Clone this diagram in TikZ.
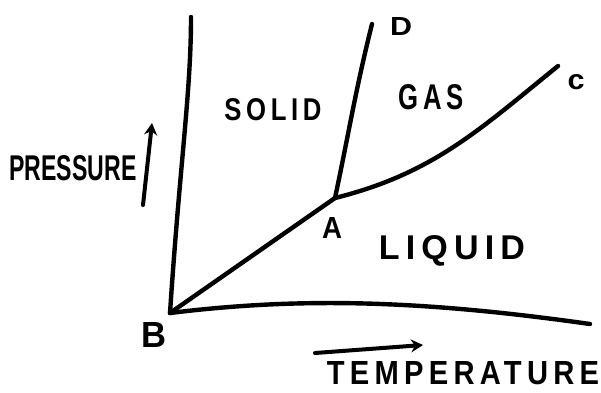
\documentclass[tikz,border=0pt]{standalone}
\usepackage{fontspec}
\usepackage{graphicx}
\setmainfont{Liberation Sans}
\newfontfamily\handfont[LetterSpace=18]{Liberation Sans}
\usetikzlibrary{arrows.meta,positioning}
\newcommand{\hand}[3]{\resizebox{#1}{#2}{\bfseries #3}}
\tikzset{
  boundary/.style={line width=4.4pt,line cap=round,line join=round,draw=black},
  arrow/.style={-{Stealth[length=12pt,width=13pt]},line width=4pt,line cap=round},
  phase/.style={inner sep=0pt,font=\handfont},
  point/.style={inner sep=0pt},
  axisLabel/.style={inner sep=0pt}
}

\begin{document}
\begin{tikzpicture}[x=1pt,y=1pt]
  \useasboundingbox (0,0) rectangle (601,392);

  % points of the diagram
  \coordinate (B) at (170,79);
  \coordinate (A) at (335,194);
  \coordinate (C) at (558,326);
  \coordinate (D) at (372,368);
  \coordinate (top) at (191,375);
  \coordinate (end) at (590,68);

  % phase boundaries
  \draw[boundary] (B) .. controls (180,230) and (191,300) .. (top);
  \draw[boundary] (B) -- (A);
  \draw[boundary] (A) to[out=78,in=-104] (D);
  \draw[boundary] (A) to[out=14,in=-141] (C);
  \draw[boundary] (B) .. controls (300,95) and (420,92) .. (end);

  % point labels
  \node[point] (labD) at (401,366) {\hand{22pt}{18pt}{D}};
  \node[point] (labC) at (576,310) {\hand{17pt}{15pt}{c}};
  \node[point] (labA) at (332,164) {\hand{20pt}{21pt}{A}};
  \node[point] (labB) at (154,57) {\hand{25pt}{25pt}{B}};

  % phases
  \node[phase] (solid) at (273,282) {\hand{97pt}{22pt}{SOLID}};
  \node[phase] (gas) at (431,295) {\hand{65pt}{25pt}{GAS}};
  \node[phase,anchor=base] (liquid) at (452,133) {\hand{146pt}{24pt}{LIQUID}};

  % axes
  \node[axisLabel] (pressure) at (73,224) {\hand{127pt}{25pt}{PRESSURE}};
  \coordinate (pUp0) at (143,187);
  \coordinate (pUp1) at (152,269);
  \draw[arrow] (pUp0) -- (pUp1);

  \node[phase] (temperature) at (463,19) {\hand{272pt}{23pt}{TEMPERATURE}};
  \coordinate (tRt0) at (315,39);
  \coordinate (tRt1) at (423,47);
  \draw[arrow] (tRt0) -- (tRt1);
\end{tikzpicture}
\end{document}
